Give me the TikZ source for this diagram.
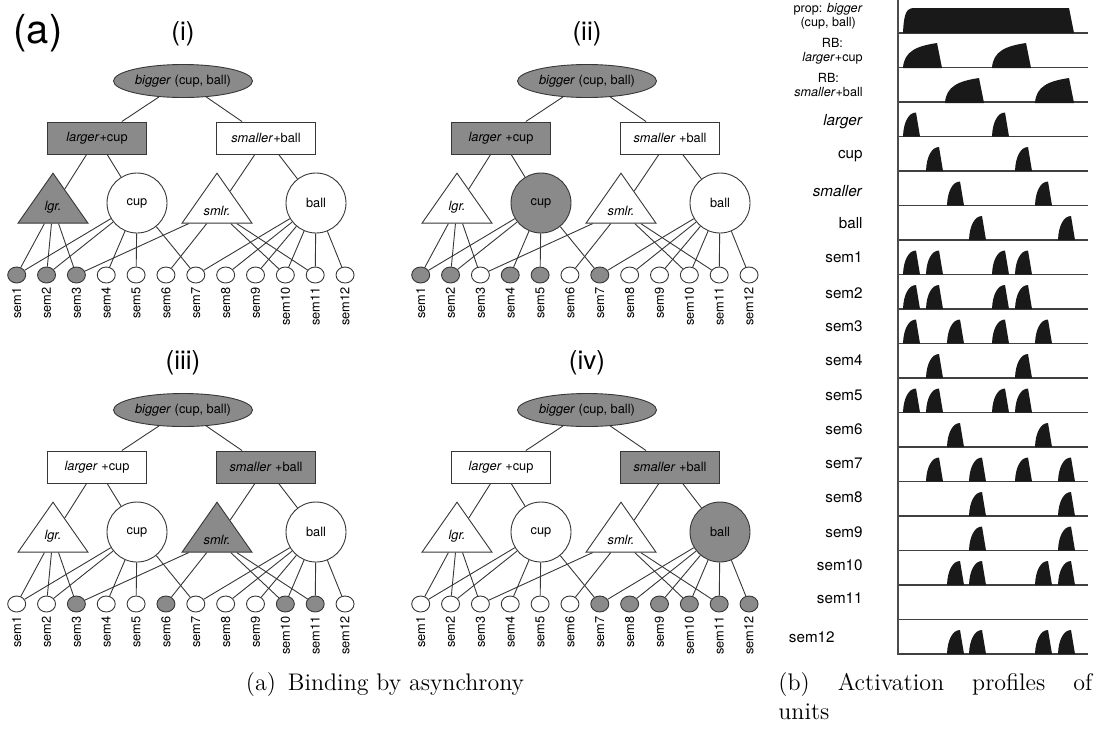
\documentclass[tikz,border=0pt]{standalone}
\usepackage{fontspec}
\setsansfont{TeX Gyre Heros}
\usetikzlibrary{shapes.geometric}

\definecolor{unitgray}{RGB}{138,138,138}
\definecolor{linegray}{RGB}{55,55,55}
\definecolor{pulseblack}{RGB}{25,25,25}

% short activation spike and long role-binding burst
\newcommand\spike[2]{\fill[pulse] (#1,#2) .. controls +(0.5,-15) and +(-7,0) .. +(13,-24) -- +(17,0) -- cycle;}
\newcommand\rbburst[2]{\fill[pulse] (#1,#2) .. controls +(1,-17) and +(-20,3) .. +(34,-25) -- +(39,0) -- cycle;}

\begin{document}
\begin{tikzpicture}[x=0.5pt,y=-0.5pt,font=\sffamily\fontsize{6.4}{7.6}\selectfont,
	unit/.style={draw=linegray,line width=0.45pt,inner sep=0pt,fill=white},
	propunit/.style={unit,ellipse,minimum width=69.5pt,minimum height=16.5pt},
	rbunit/.style={unit,rectangle,minimum width=49.5pt,minimum height=16pt},
	predunit/.style={unit,isosceles triangle,isosceles triangle stretches,shape border rotate=90,minimum width=35pt,minimum height=25pt,anchor=apex},
	objunit/.style={unit,circle,minimum size=30pt},
	semunit/.style={unit,ellipse,minimum width=9pt,minimum height=8pt},
	semlabel/.style={rotate=90,anchor=east,inner sep=0pt},
	link/.style={draw=linegray,line width=0.45pt},
	panellabel/.style={font=\sffamily\fontsize{13}{15}\selectfont},
	rowlabel/.style={anchor=east,inner sep=0pt,font=\sffamily\fontsize{7.6}{9}\selectfont},
	pairlabel/.style={rowlabel,align=center,font=\sffamily\fontsize{6.3}{7}\selectfont},
	axis/.style={draw=black!70,line width=0.75pt},
	rowline/.style={draw=black!75,line width=0.6pt},
	pulse/.style={fill=pulseblack},
	caption/.style={inner sep=0pt,font=\rmfamily\fontsize{12}{14.5}\selectfont}]

	\useasboundingbox (0,0) rectangle (1099,736);

	\node (figA) [font=\sffamily\fontsize{20}{24}\selectfont] at (38,33) {(a)};

	% the four binding snapshots
	\foreach \pn/\dx/\dy/\ptag/\rbAtext/\rbBtext/\fA/\fB/\fL/\fC/\fS/\fBl/\active in {
		i/0/0/(i)/{\textit{larger}+cup}/{\textit{smaller}+ball}/unitgray/white/unitgray/white/white/white/{1,2,3},
		ii/404/0/(ii)/{\textit{larger} +cup}/{\textit{smaller} +ball}/unitgray/white/white/unitgray/white/white/{1,2,4,5,7},
		iii/0/329/(iii)/{\textit{larger} +cup}/{\textit{smaller} +ball}/white/unitgray/white/white/unitgray/white/{3,6,10,11},
		iv/404/329/(iv)/{\textit{larger} +cup}/{\textit{smaller} +ball}/white/unitgray/white/white/white/unitgray/{7,8,9,10,11,12}}
	{
	\begin{scope}[shift={(\dx,\dy)}]
		\node (\pn-tag) [panellabel] at (183,34) {\ptag};
		\node (\pn-prop) [propunit,fill=unitgray] at (183,81) {\textit{bigger} (cup, ball)};
		\node (\pn-rbA) [rbunit,fill=\fA] at (97,138) {\rbAtext};
		\node (\pn-rbB) [rbunit,fill=\fB] at (266,138) {\rbBtext};
		\node (\pn-lgr) [predunit,fill=\fL] at (53,172) {\textit{lgr.}};
		\node (\pn-cup) [objunit,fill=\fC] at (137,203) {cup};
		\node (\pn-smlr) [predunit,fill=\fS] at (217,172) {\textit{smlr.}};
		\node (\pn-ball) [objunit,fill=\fBl] at (316,203) {ball};

		\foreach \k in {1,...,12} {
			\pgfmathsetmacro\semx{16.7+(\k-1)*29.85}
			\def\semfill{white}
			\foreach \a in \active {\ifnum\a=\k\relax\gdef\semfill{unitgray}\fi}
			\node (\pn-s\k) [semunit,fill=\semfill] at (\semx,275) {};
			\node (\pn-l\k) [semlabel] at (\semx,287) {sem\k};
		}

		\path [link]
		(\pn-prop) edge (\pn-rbA) edge (\pn-rbB)
		(\pn-rbA) edge (\pn-lgr) edge (\pn-cup)
		(\pn-rbB) edge (\pn-smlr) edge (\pn-ball);
		\foreach \k in {1,2,3} \path [link] (\pn-lgr) edge (\pn-s\k);
		\foreach \k in {1,2,4,5,7} \path [link] (\pn-cup) edge (\pn-s\k);
		\foreach \k in {3,6,10,11} \path [link] (\pn-smlr) edge (\pn-s\k);
		\foreach \k in {7,...,12} \path [link] (\pn-ball) edge (\pn-s\k);
	\end{scope}
	}

	% activation profiles
	\node (propLab) [pairlabel] at (863,16) {prop: \textit{bigger}\\(cup, ball)};
	\node (rbALab) [pairlabel] at (863,51) {RB:\\\textit{larger}+cup};
	\node (rbBLab) [pairlabel] at (863,85) {RB:\\\textit{smaller}+ball};
	\foreach \lab/\ly [count=\i] in {\textit{larger}/122, cup/156, \textit{smaller}/191, ball/223,
		sem1/257, sem2/293, sem3/326, sem4/360, sem5/395, sem6/429, sem7/463, sem8/497,
		sem9/532, sem10/565, sem11/598}
		\node (row\i) [rowlabel] at (863,\ly) {\lab};
	\node (row16) [rowlabel] at (835,637) {sem12};

	\foreach \r in {0,...,18}
		\draw [rowline] (898,{33+34.5*\r}) -- (1088,{33+34.5*\r});
	\draw [axis] (898,0) -- (898,655);

	\fill [pulse] (903,33) .. controls +(1,-22) and +(-8,0) .. +(12,-25) -- +(166,-25) -- +(171,0) -- cycle;
	\rbburst{903}{68} \rbburst{992}{68}
	\rbburst{945}{103} \rbburst{1035}{103}
	\foreach \r/\xs in {3/{903,992}, 4/{926,1015}, 5/{947,1035}, 6/{969,1058},
		7/{903,926,992,1015}, 8/{903,926,992,1015}, 9/{903,947,992,1035}, 10/{926,1015},
		11/{903,926,992,1015}, 12/{947,1035}, 13/{926,969,1015,1058}, 14/{969,1058},
		15/{969,1058}, 16/{947,969,1035,1058}, 18/{947,969,1035,1058}}
		\foreach \sx in \xs {\spike{\sx}{33+34.5*\r}}

	% sub-captions
	\node (capA) [caption,anchor=base] at (385,690) {(a)\enspace Binding by asynchrony};
	\node (capB) [caption,anchor=north west,text width=157pt,align=justify] at (778,672)
		{(b) Activation profiles of\linebreak units};

\end{tikzpicture}
\end{document}
